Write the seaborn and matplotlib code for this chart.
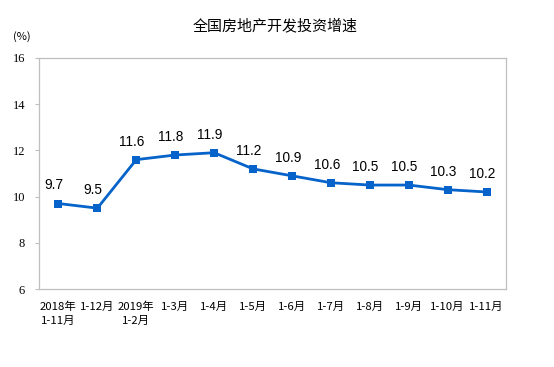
import numpy as np
import pandas as pd
import seaborn as sns
import matplotlib.pyplot as plt

months = ["2018年\n1-11月", "1-12月", "2019年\n1-2月", "1-3月", "1-4月", "1-5月",
          "1-6月", "1-7月", "1-8月", "1-9月", "1-10月", "1-11月"]
growth = [9.7, 9.5, 11.6, 11.8, 11.9, 11.2, 10.9, 10.6, 10.5, 10.5, 10.3, 10.2]
yticks = [6, 8, 10, 12, 14, 16]

df = pd.DataFrame({"month": months, "growth": growth})

sns.set_style("white")
plt.rcParams['font.family'] = ['Noto Sans CJK SC', 'DejaVu Sans']
plt.rcParams['text.color'] = 'black'
plt.rcParams['xtick.color'] = 'black'
plt.rcParams['ytick.color'] = 'black'

fig = plt.figure(figsize=(5.54, 3.67), dpi=100)
ax = fig.add_axes([0.0704, 0.2125, 0.843, 0.6295])

sns.lineplot(data=df, x="month", y="growth", ax=ax, color="#0563C9",
             marker="s", markersize=5.5, markeredgewidth=0, linewidth=2.0, sort=False)

for i, v in enumerate(growth):
    ax.annotate(f"{v}", (i, v), xytext=(-3, 8), textcoords="offset points",
                ha="center", va="bottom", fontsize=9.8, family="Liberation Sans")

ax.set_xlim(-0.5, len(months) - 0.5)
ax.set_ylim(6, 16)
ax.set_yticks(yticks)
ax.set_yticklabels([str(t) for t in yticks], family="Liberation Serif", fontsize=9)
ax.set_xticks(range(len(months)))
ax.set_xticklabels(months, fontsize=8.2, linespacing=1.55)
ax.set_xticks(np.arange(0.5, len(months) - 1, 1), minor=True)
ax.tick_params(axis="x", which="major", length=0, pad=9)
ax.tick_params(axis="x", which="minor", length=3.5, direction="in", color="#BFBFBF", width=0.8)
ax.tick_params(axis="y", length=3, direction="out", color="#BFBFBF", labelcolor="black",
               width=0.8, pad=7, left=True)
for s in ax.spines.values():
    s.set_color("#BFBFBF")
    s.set_linewidth(0.9)
ax.set_xlabel("")
ax.set_ylabel("")

fig.text(0.497, 0.93, "全国房地产开发投资增速", ha="center", va="center", fontsize=10.8)
fig.text(0.04, 0.9, "(%)", ha="center", va="center", fontsize=8)

fig.savefig("out.png", dpi=100)
